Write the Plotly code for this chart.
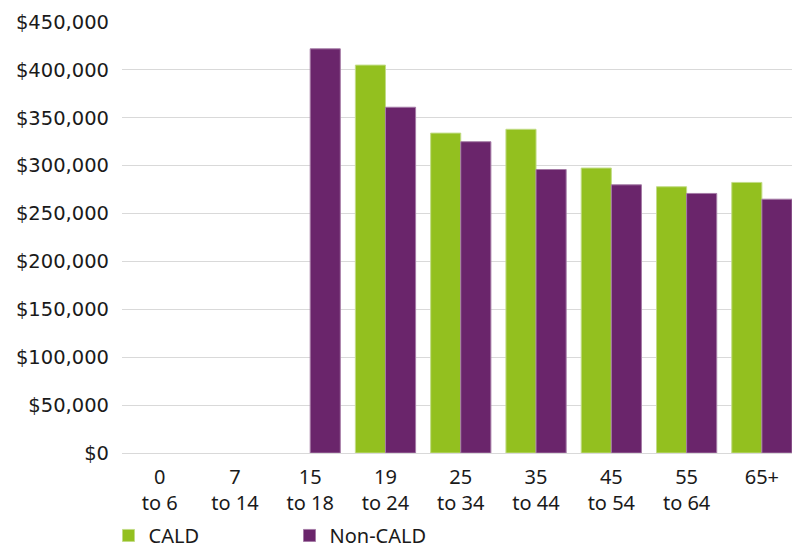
import plotly.graph_objects as go

# Age groups (two-line tick labels) and average values per group
age_groups = ["0<br>to 6", "7<br>to 14", "15<br>to 18", "19<br>to 24", "25<br>to 34",
              "35<br>to 44", "45<br>to 54", "55<br>to 64", "65+"]
cald = [None, None, None, 405000, 334000, 338000, 297500, 278000, 282500]
non_cald = [None, None, 422000, 361000, 325000, 296000, 280000, 271000, 265000]

GREEN = "#93C01F"
PURPLE = "#6A256B"
FONT = "Noto Sans"
TEXT = "#1a1a1a"

fig = go.Figure()
fig.add_trace(go.Bar(
    x=age_groups, y=cald, name="CALD",
    marker=dict(color=GREEN, line=dict(color="#C2DC86", width=1)),
))
fig.add_trace(go.Bar(
    x=age_groups, y=non_cald, name="Non-CALD",
    marker=dict(color=PURPLE, line=dict(color="#A57BA6", width=1)),
))

fig.update_layout(
    width=792, height=552,
    margin=dict(l=122, r=0, t=22, b=99),
    paper_bgcolor="white", plot_bgcolor="white",
    barmode="group", bargap=0.2, bargroupgap=0,
    font=dict(family=FONT, size=20, color=TEXT),
    showlegend=True,
    legend=dict(
        orientation="h",
        xref="container", x=0.137, xanchor="left",
        yref="container", y=0.03, yanchor="middle",
        font=dict(family=FONT, size=20, color=TEXT),
        entrywidth=136, entrywidthmode="pixels",
        traceorder="normal",
    ),
)
fig.update_xaxes(
    range=[-0.5, 8.4], showgrid=False, showline=False, zeroline=False,
    ticks="", ticklabelstandoff=10,
    tickfont=dict(family=FONT, size=20, color=TEXT),
)
fig.update_yaxes(
    range=[0, 450000], dtick=50000, tickprefix="$", tickformat=",d",
    showgrid=True, gridcolor="#D9D9D9", gridwidth=1,
    zeroline=True, zerolinecolor="#D9D9D9", zerolinewidth=1,
    showline=False, ticks="", ticklabelstandoff=12,
    tickfont=dict(family="DejaVu Sans", size=19.5, color=TEXT),
)

fig.write_html("out.html")
